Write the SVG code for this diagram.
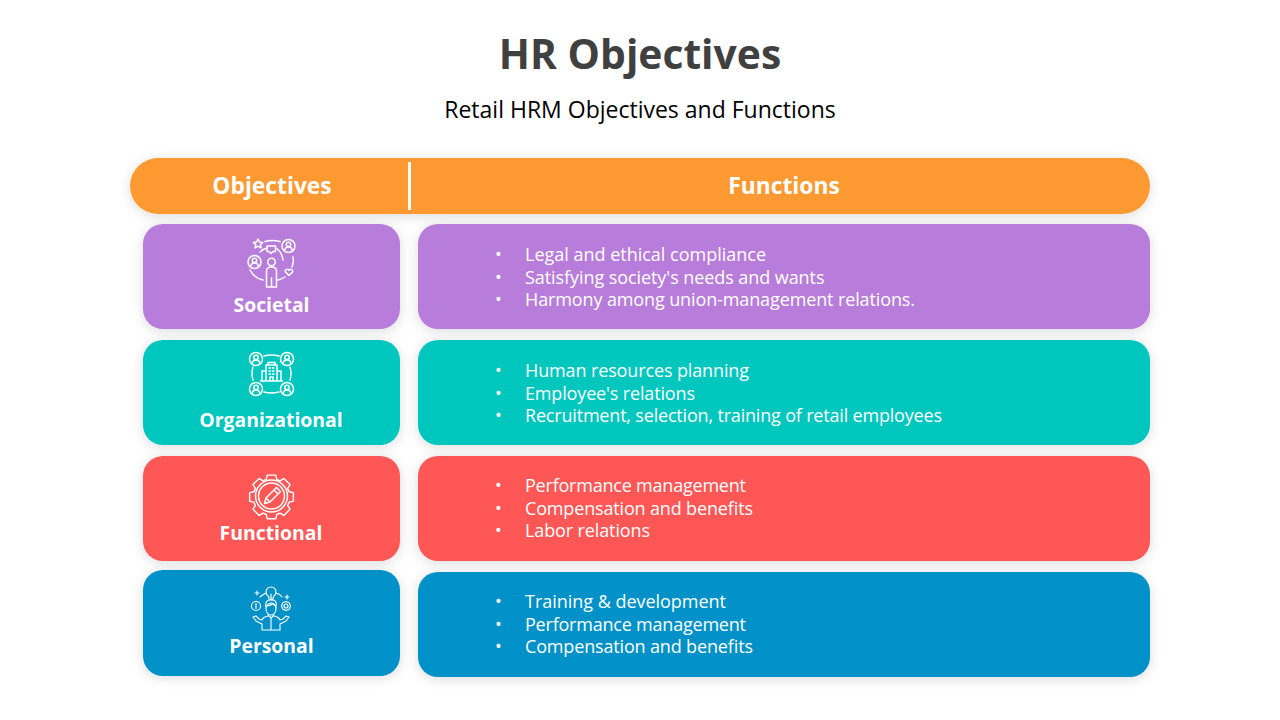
<svg xmlns="http://www.w3.org/2000/svg" width="1280" height="720" viewBox="0 0 1280 720">
<style>
text{font-family:"Open Sans","Noto Sans","Liberation Sans",sans-serif}
.title{font-size:40.8px;font-weight:700;fill:#404040;text-anchor:middle}
.sub{font-size:23px;fill:#000;text-anchor:middle}
.hd{font-size:22.8px;font-weight:700;fill:#fff;text-anchor:middle}
.lab{font-size:19.4px;font-weight:700;fill:#fff;text-anchor:middle}
.li{font-size:18px;fill:#fff}
.ic{fill:none;stroke:#fff;stroke-width:1.5;stroke-linecap:round;stroke-linejoin:round}
.box{filter:url(#sh)}
</style>
<defs>
<filter id="sh" x="-10%" y="-20%" width="120%" height="150%"><feDropShadow dx="0" dy="2" stdDeviation="6" flood-color="#000" flood-opacity="0.14"/></filter>
<g id="person"><circle r="6.5"/><circle cy="-1.6" r="2.2"/><path d="M-3.900 4.600C-3.600 1.900-2 .9 0 .9S3.600 1.900 3.900 4.600"/></g>
</defs>
<rect width="1280" height="720" fill="#fff"/>
<g id="title"><text class="title" x="640" y="69">HR Objectives</text><text class="sub" x="640" y="118">Retail HRM Objectives and Functions</text></g>
<g id="header">
<rect class="box" x="130" y="158" width="1020" height="56" rx="28" fill="#ff9933"/>
<rect x="408" y="162" width="3" height="48" fill="#fff"/>
<text class="hd" x="272" y="194">Objectives</text>
<text class="hd" x="784" y="194">Functions</text>
</g>
<g id="societal">
<rect class="box" x="143" y="224" width="257" height="105" rx="20" fill="#b87cdb"/>
<g class="ic">
<use href="#person" x="288.500" y="246"/><use href="#person" x="254.500" y="262"/>
<path d="M258 239l1.500 3 3.300.4-2.400 2.200.7 3.300-3.100-1.700-3 1.700.7-3.300-2.400-2.200 3.300-.4z"/>
<path d="M267 246h8.500v5.500h-2.500l-2 2-2-2h-2z"/>
<circle cx="271.500" cy="262" r="3.800"/>
<path d="M266.500 287V271q0-4 5-4t5 4V287zM271.500 278v9"/>
<path d="M289 275.500l-3.400-3.400c-1.500-2.100 1.800-4 3.400-1.800 1.600-2.200 4.900-.3 3.400 1.800z"/>
<path d="M265 241.500q7-2 15 0M293 257q1 5-1 10M250 270q4 8 13 10M278 280q4-1 7-3M276 248q6 4 7 12M260 252q3-3 7-4"/>
</g>
<text class="lab" x="271.500" y="312">Societal</text>
</g>
<g id="organizational">
<rect class="box" x="143" y="340" width="257" height="105" rx="20" fill="#00c7be"/>
<g class="ic">
<use href="#person" x="256" y="359"/><use href="#person" x="287" y="359"/><use href="#person" x="256" y="389"/><use href="#person" x="287" y="389"/>
<path d="M264 356q7-2 15 0M264 392q7 2 15 0M253 367q-2 6.500 0 13M290 367q2 6.500 0 13"/>
<path d="M266 381V365h11v16M268 365v-2.500h7V365M262 381v-10h4M281 381v-10h-4M260.500 381h22M270 381v-4h3v4M269 368h1.500M272.500 368h1.500M269 371h1.500M272.500 371h1.500M269 374h1.500M272.500 374h1.500"/>
</g>
<text class="lab" x="271" y="427">Organizational</text>
</g>
<g id="functional">
<rect class="box" x="143" y="456" width="257" height="105" rx="20" fill="#ff5757"/>
<g class="ic">
<path transform="translate(271.500 496) scale(.95) translate(-272 -496)" d="M267.500 474h9l1 4.500 3.500 1.500 4-2.500 6.500 6.500-2.500 4 1.500 3.500 4.500 1v9l-4.500 1-1.500 3.500 2.500 4-6.500 6.500-4-2.500-3.500 1.500-1 4.500h-9l-1-4.500-3.500-1.500-4 2.500-6.500-6.500 2.500-4-1.500-3.500-4.500-1v-9l4.500-1 1.500-3.500-2.500-4 6.500-6.500 4 2.500 3.500-1.500z"/>
<circle cx="271.500" cy="496" r="16"/><circle cx="271.500" cy="496" r="13"/>
<path d="M264.500 503.500l1.500-5.500 10.500-10.500 4 4-10.500 10.500zM266 498l4 4M274 490l4 4"/>
</g>
<text class="lab" x="271" y="540">Functional</text>
</g>
<g id="personal">
<rect class="box" x="143" y="570" width="257" height="106" rx="20" fill="#0091c9"/>
<g class="ic" style="stroke-width:1.100">
<path d="M268.500 598v-1.500q-2.500-1.500-2.500-4.500a5 5 0 0 1 10 0q0 3-2.500 4.500v1.500zM269 600h4M271 598v-4"/>
<circle cx="256" cy="606" r="4.500"/><path d="M256 603.500v5"/>
<circle cx="286" cy="606" r="2"/>
<path d="M281.500 606l1.300-3.200 3.200-1.300 3.200 1.300 1.300 3.200-1.300 3.200-3.200 1.300-3.200-1.300z"/>
<path d="M257 591v4M255 593h4M287 595v4M285 597h4M260 597q2-2 6-4M276 593q4 1 6 4"/>
<ellipse cx="271" cy="609" rx="5" ry="6"/>
<path d="M266 607q-1.500-7 5-7.500 6.500 0 5 7.500M266 606q5-.5 7-2.500 1 2 3 2.500"/>
<path d="M268 615l3 3 3-3M271 618v12M262 630h18M262 630v-6l-6-3-3-4 3-1 3 3 3 1q1-3 6-4M280 630v-6l6-3 3-4-3-1-3 3-3 1q-1-3-6-4"/>
</g>
<text class="lab" x="271.500" y="653">Personal</text>
</g>
<g id="f-societal">
<rect class="box" x="418" y="224" width="732" height="105" rx="20" fill="#b87cdb"/>
<g class="li"><text x="495" y="261">•</text><text x="525" y="261" textLength="241">Legal and ethical compliance</text>
<text x="495" y="284">•</text><text x="525" y="284" textLength="299.500">Satisfying society's needs and wants</text>
<text x="495" y="306">•</text><text x="525" y="306" textLength="390">Harmony among union-management relations.</text></g>
</g>
<g id="f-organizational">
<rect class="box" x="418" y="340" width="732" height="105" rx="20" fill="#00c7be"/>
<g class="li"><text x="495" y="377">•</text><text x="525" y="377" textLength="224">Human resources planning</text>
<text x="495" y="400">•</text><text x="525" y="400" textLength="170">Employee's relations</text>
<text x="495" y="422">•</text><text x="525" y="422" textLength="417">Recruitment, selection, training of retail employees</text></g>
</g>
<g id="f-functional">
<rect class="box" x="418" y="456" width="732" height="105" rx="20" fill="#ff5757"/>
<g class="li"><text x="495" y="492">•</text><text x="525" y="492" textLength="221">Performance management</text>
<text x="495" y="515">•</text><text x="525" y="515" textLength="228">Compensation and benefits</text>
<text x="495" y="537">•</text><text x="525" y="537" textLength="125">Labor relations</text></g>
</g>
<g id="f-personal">
<rect class="box" x="418" y="572" width="732" height="105" rx="20" fill="#0091c9"/>
<g class="li"><text x="495" y="608">•</text><text x="525" y="608" textLength="201">Training &amp; development</text>
<text x="495" y="631">•</text><text x="525" y="631" textLength="221">Performance management</text>
<text x="495" y="653">•</text><text x="525" y="653" textLength="228">Compensation and benefits</text></g>
</g>
</svg>
